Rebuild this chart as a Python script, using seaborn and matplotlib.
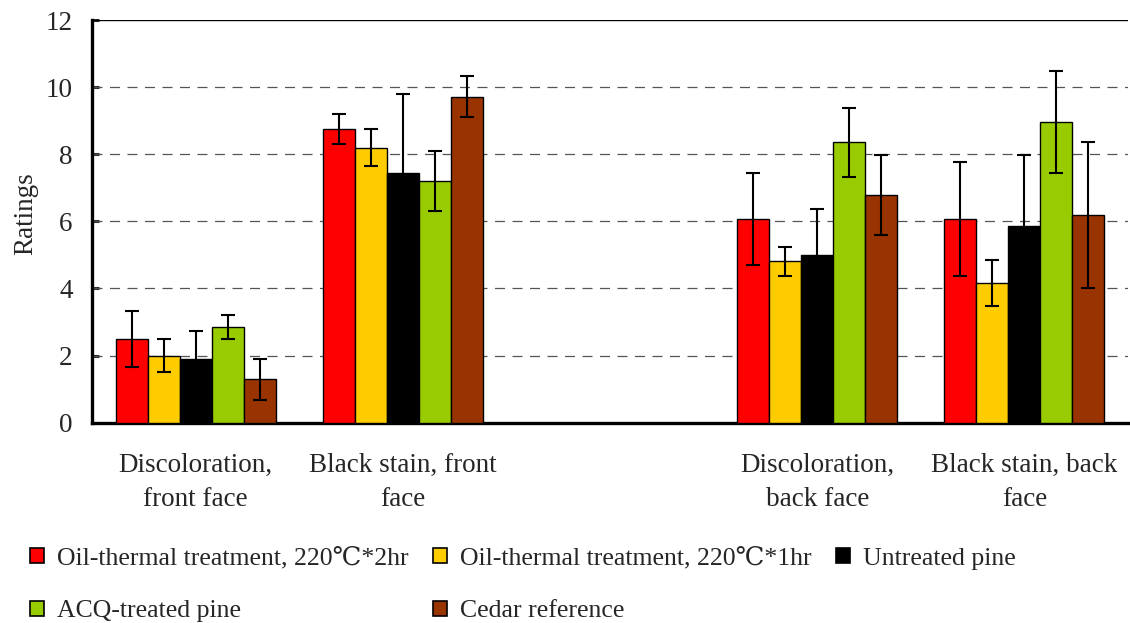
import matplotlib
matplotlib.use("Agg")
import matplotlib.pyplot as plt
from matplotlib.container import BarContainer
from matplotlib.colors import to_hex
import seaborn as sns
import pandas as pd
import numpy as np

# ---- data ----
categories = ["Discoloration,\nfront face", "Black stain, front\nface", "",
              "Discoloration,\nback face", "Black stain, back\nface"]
treatments = ["Oil-thermal treatment, 220\u2103*2hr",
              "Oil-thermal treatment, 220\u2103*1hr",
              "Untreated pine", "ACQ-treated pine", "Cedar reference"]
colors = ["#FF0000", "#FFCC00", "#000000", "#99CC00", "#993300"]

# values per category (rows: data categories, cols: treatments)
data_categories = [categories[0], categories[1], categories[3], categories[4]]
oil_2hr = [2.50, 8.75, 6.07, 6.07]
oil_1hr = [2.00, 8.20, 4.81, 4.16]
untreated = [1.90, 7.45, 5.01, 5.85]
acq = [2.85, 7.21, 8.35, 8.95]
cedar = [1.29, 9.72, 6.79, 6.19]

err_oil_2hr = [0.83, 0.45, 1.38, 1.70]
err_oil_1hr = [0.50, 0.54, 0.43, 0.69]
err_untreated = [0.82, 2.33, 1.36, 2.13]
err_acq = [0.35, 0.90, 1.02, 1.52]
err_cedar = [0.60, 0.60, 1.20, 2.18]

yticks = [0, 2, 4, 6, 8, 10, 12]

values = [oil_2hr, oil_1hr, untreated, acq, cedar]
errors = [err_oil_2hr, err_oil_1hr, err_untreated, err_acq, err_cedar]

rows = []
for t, vals, errs in zip(treatments, values, errors):
    for c, v, e in zip(data_categories, vals, errs):
        rows.append({"category": c, "treatment": t, "value": v, "err": e})
df = pd.DataFrame(rows)

# ---- style ----
sns.set_theme(style="white")
plt.rcParams["font.family"] = ["Liberation Serif", "DejaVu Serif"]
plt.rcParams["mathtext.fontset"] = "stix"

FS = 19.5
fig = plt.figure(figsize=(11.30, 6.23), dpi=100)
ax = fig.add_axes([92 / 1130, 1 - 422.7 / 623, (1128 - 92) / 1130, (422.7 - 20) / 623])

sns.barplot(data=df, x="category", y="value", hue="treatment",
            order=categories, hue_order=treatments,
            palette=dict(zip(treatments, colors)),
            width=0.773, errorbar=None, edgecolor="black", linewidth=1.0,
            saturation=1.0, ax=ax, zorder=3)
ax.set_xlim(-0.5, len(categories) - 0.5)

# error bars from the drawn bars
color_to_treat = {to_hex(c): t for c, t in zip(colors, treatments)}
err_lookup = {(c, t): e for c, t, e in zip(df["category"], df["treatment"], df["err"])}
bar_conts = [c for c in ax.containers if isinstance(c, BarContainer)]
for cont in bar_conts:
    for bar in cont:
        h = bar.get_height()
        if np.isnan(h):
            continue
        t = color_to_treat.get(to_hex(bar.get_facecolor()))
        xc = bar.get_x() + bar.get_width() / 2
        cat = categories[int(round(xc))]
        e = err_lookup.get((cat, t))
        if e is None:
            continue
        ax.errorbar(xc, h, yerr=e, fmt="none", ecolor="black",
                    elinewidth=1.5, capsize=5, capthick=1.5, zorder=4)

ax.set_ylim(0, 12)
ax.set_yticks(yticks)
ax.set_yticklabels([str(v) for v in yticks], fontsize=FS)
ax.set_xticks(range(len(categories)))
ax.set_xticklabels(categories, fontsize=FS, linespacing=1.52)
ax.set_xlabel("")
ax.set_ylabel("Ratings", fontsize=FS, labelpad=5, y=0.52)
ax.tick_params(axis="x", length=0, pad=21.5)
ax.tick_params(axis="y", direction="in", length=5, width=2.2, pad=14, left=True)

# gridlines
for v in yticks[1:-1]:
    ax.axhline(v, color="#555555", lw=0.9, ls=(0, (8, 6)), zorder=1)
ax.axhline(12, color="black", lw=1.0, zorder=1)

for s in ["top", "right"]:
    ax.spines[s].set_visible(False)
ax.spines["left"].set_linewidth(2.4)
ax.spines["bottom"].set_linewidth(2.4)
ax.spines["left"].set_color("black")
ax.spines["bottom"].set_color("black")

# legend, row-wise order
old = ax.get_legend()
handles = list(old.legend_handles)
labels = [t.get_text() for t in old.get_texts()]
old.remove()
order = [0, 3, 1, 4, 2]
leg = ax.legend([handles[i] for i in order], [labels[i] for i in order],
                loc="upper left",
                bbox_to_anchor=(30 / 1130, 1 - 547 / 623),
                bbox_transform=fig.transFigure,
                ncol=3, frameon=False, fontsize=18.5,
                handlelength=0.55, handleheight=0.55, handletextpad=0.5,
                columnspacing=0.95, labelspacing=1.2,
                borderaxespad=0, borderpad=0)
for h in leg.legend_handles:
    h.set_edgecolor("black")
    h.set_linewidth(1.2)

fig.savefig("out.png", dpi=100)
